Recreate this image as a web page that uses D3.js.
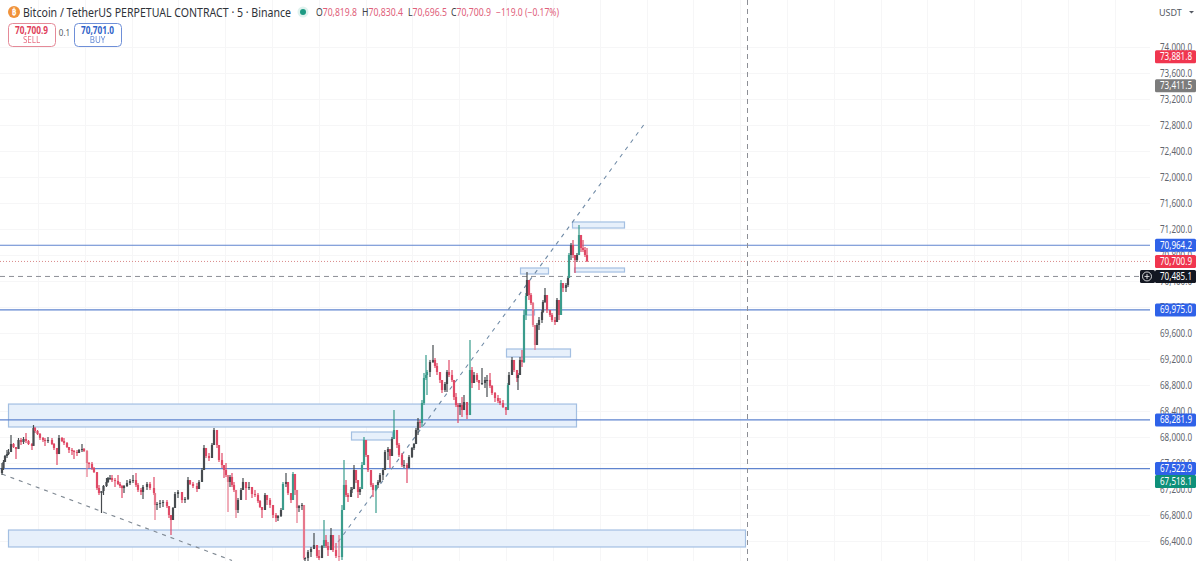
<!DOCTYPE html>
<html><head><meta charset="utf-8">
<style>html,body{margin:0;padding:0;background:#fff;overflow:hidden}svg{display:block}text{font-family:"Noto Sans",sans-serif}</style>
<script src="https://cdn.jsdelivr.net/npm/d3@7"></script>
</head><body><svg id="c" width="1199" height="561"></svg>
<script>
// bar offsets along the time axis
const barPos=[
2,3.5,5,7,8.5,11,13.5,16,18.5,21,23.5,26,28.5,32,33.5,35,37.5,40,43,45,48,52,54,57,59,62,64,67,69,72,74,77,79,82,84,87,89,92,94,97,99,101.5,103.5,106.5,
108,110,112,115,118,120,122,124,127,130,133,136,138,141,143,147,150,154,155,157,160,163,167,169,171,173,175,178,182,185,188,190,193,197,199,202,204,206,209,212,214,
217,219,222,224,226,228,230,232,234,236,238,241,243,246,249,252,255,258,260,262,265,267,270,273,276,278,281,283,286,288,291,293,295,297,299,302,304,
305,308,311,314,317,319,322,324,326,328,
331,333,336,339,342,344,346,348,351,352,
354,356,358,360,362,364,366,368,371,373,
376,378,380,383,385,388,390,392,394,397,
399,402,404,407,409,412,414,416,418,420,
422,424,426,427,430,433,435,437,440,442,
445,447,449,452,454,456,458,460,462,464,
467,470,472,474,477,479,482,485,487,490,
492,495,498,500,503,506,508,509,512,514,
517,518,520,522,524,526,527,529,531,533,
535,537,539,542,543,545,547,550,552,555,
557,559,561,563,566,568,569,571,573,575,
577,579,581,583,585,587];
const highs=[
67600,67646,67723,67800,67815,68031,67908,67846,67985,67985,68000,68062,67954,67908,68185,68154,68108,68062,68000,67985,68000,67985,67908,67769,68031,68000,67985,67923,67846,67831,67800,67800,67815,67892,67831,67800,67615,67615,67538,67446,67262,67138,67262,67369,
67385,67415,67415,67369,67415,67308,67262,67262,67338,67354,67415,67446,67292,67215,67262,67308,67308,67385,67108,67000,67031,67031,67031,66923,66754,66923,67154,67185,67108,67077,67385,67338,67308,67292,67338,67523,67877,67831,67754,67908,68138,
68108,67877,67754,67569,67600,67415,67415,67446,67308,67185,67062,67215,67369,67262,67308,67154,67185,67138,67031,66923,67138,67108,67062,66954,66831,66800,66908,67308,67446,67292,67138,67461,67431,67185,66954,66985,66954,
66154,66261,66308,66523,66338,66261,66338,66723,66492,66385,
66600,66492,66369,66492,66954,67646,67338,67138,67231,67231,
67569,67492,67338,67231,67615,68000,67954,67723,67492,67292,
67262,67338,67446,67523,67800,67846,67815,68000,68415,68108,
67908,67754,67646,67600,67723,67846,67908,68138,68292,68262,
68569,68985,69262,69031,69185,69415,69215,69138,69000,68877,
68846,69031,69185,69031,68877,68677,68523,68523,68615,68646,
68538,69492,69077,69000,68985,68877,69062,68923,68954,68985,
68800,68692,68646,68600,68569,68461,68831,69000,69231,69185,
69031,68985,69231,69338,69954,70215,70538,70415,70215,70077,
69723,69754,69846,69954,70108,70292,70185,69954,69908,69846,
70138,70108,70415,70369,70369,70462,70831,70985,71031,70800,
70831,71261,71108,71031,70923,70908];
const lows=[
67415,67492,67615,67677,67723,67831,67831,67661,67831,67877,67892,67908,67877,67800,67877,68062,68031,67954,67923,67862,67908,67877,67800,67569,67754,67923,67877,67831,67754,67723,67661,67708,67754,67769,67769,67385,67523,67492,67446,67185,67108,66831,67108,67231,
67292,67338,67308,67231,67262,67215,67062,67138,67231,67262,67292,67231,67154,67108,67046,67185,67185,67108,66723,66877,66908,66923,66908,66754,66492,66723,66923,67062,66985,66985,67031,67262,67215,67154,67231,67385,67523,67677,67631,67692,67908,
67831,67615,67523,67369,67385,66846,67231,67231,67154,66754,66831,67062,67185,67031,67185,67062,67077,66985,66908,66754,66877,66954,66908,66754,66692,66708,66769,66877,67231,67108,66985,67031,67108,66677,66846,66877,66108,
66092,66092,66154,66277,66138,66108,66138,66292,66292,66169,
66261,66231,66138,66092,66108,66877,67077,67000,67077,67138,
67200,67292,67062,67108,67200,67569,67692,67461,67231,67077,
66831,67215,67292,67338,67492,67646,67523,67708,67969,67831,
67692,67538,67523,67292,67523,67677,67800,67892,68031,68139,
68154,68492,68877,68646,68923,69138,69062,68954,68831,68677,
68692,68692,68923,68846,68569,68461,68216,68338,68308,68415,
68277,68338,68754,68831,68846,68723,68800,68754,68615,68754,
68646,68538,68523,68492,68446,68338,68415,68800,68954,69000,
68846,68723,68954,69077,69138,69800,70169,70108,70031,69692,
69338,69415,69646,69754,69908,70062,69908,69846,69769,69723,
69769,69800,69877,70231,70231,70308,70446,70723,70754,70523,
70692,70800,70846,70846,70769,70696.5];
const closes=[
67523,67615,67708,67738,67769,67892,67846,67815,67954,67923,67969,67938,67892,67862,68138,68092,68046,67985,67954,67938,67954,67892,67831,67738,67985,67938,67908,67846,67800,67785,67769,67754,67800,67815,67785,67600,67585,67523,67461,67215,67138,67169,67246,67308,
67369,67369,67338,67323,67277,67246,67215,67246,67292,67323,67338,67262,67185,67154,67231,67277,67215,67138,66954,66969,66985,67000,66938,66800,66723,66908,67123,67154,67031,67046,67338,67277,67246,67200,67308,67492,67831,67708,67677,67877,68108,
67877,67646,67569,67492,67415,67308,67385,67262,67185,66877,67031,67185,67308,67215,67231,67123,67108,67015,66923,66877,67108,67031,66954,66800,66754,66785,66877,67277,67308,67138,67031,67431,67185,66908,66938,66954,66138,
66138,66231,66277,66338,66169,66138,66323,66415,66323,66261,
66492,66261,66169,66154,66877,67262,67108,67077,67185,67200,
67492,67338,67154,67200,67569,67954,67723,67492,67262,67185,
67262,67308,67415,67492,67769,67815,67708,67969,68108,67877,
67723,67569,67569,67523,67692,67831,67892,68108,68231,68216,
68523,68908,68954,69000,69154,69185,69092,69000,68877,68723,
68815,69000,68954,68877,68615,68492,68461,68492,68415,68538,
68338,69031,68831,68954,68877,68831,68831,68877,68877,68785,
68677,68600,68554,68523,68461,68415,68800,68954,69185,69031,
68908,68954,69185,69154,69877,70169,70415,70185,70062,69723,
69415,69723,69800,69923,70077,70185,69954,69877,69800,69769,
70108,69877,70369,70292,70338,70446,70800,70954,70800,70723,
70800,71108,70908,70877,70800,70700.9];
const firstOpen=67446;

const priceTicks=[74000,73600,73200,72800,72400,72000,71600,71200,70800,70400,70000,69600,69200,68800,68400,68000,67600,67200,66800,66400];
const gridTimes=[38,85,132,178,225,272,319,366,412,459,506,553,600,647,693,740,787,834,881,927,974,1021,1068,1115];

// zones: left, right, top price, bottom price
const zoneLeft =[8,8,351,506,520,572,574,524];
const zoneRight=[576,745,392,570,548,624,624,534];
const zoneTop  =[68507,66569,68077,69354,70600,71308,70600,69954];
const zoneBot  =[68154,66308,67954,69231,70508,71215,70538,69877];

const blueLevels=[70950,69955,68262,67515];
const lastPrice=70700.9, crossPrice=70470, crossTime=747;

const downLineTimes=[2,232], downLinePrices=[67430,66100];
const upLineTimes=[338,646], upLinePrices=[66385,72850];

const badgeText=["73,881.8","73,411.5","70,964.2","70,700.9","70,485.1","69,975.0","68,281.9","67,522.9","67,518.1"];
const badgePrice=[73851,73405,70950,70700,70470,69955,68262,67515,67316];
const badgeFill=["#f0364f","#7c7c7c","#2f62e8","#f0364f","#131722","#2f62e8","#2f62e8","#2f62e8","#0e9079"];

const svg=d3.select("#c");
const defs=svg.append("defs");
defs.append("filter").attr("id","soft").attr("x","-5%").attr("y","-5%").attr("width","110%").attr("height","110%")
 .append("feGaussianBlur").attr("stdDeviation",0.4);
const plotW=1150;
const x=d3.scaleLinear().domain([0,plotW]).range([0,plotW]);
const y=d3.scaleLinear().domain([66400,74000]).range([541,47]);

// grid
svg.append("g").selectAll("line").data(gridTimes).join("line")
 .attr("x1",d=>x(d)+.5).attr("x2",d=>x(d)+.5).attr("y1",0).attr("y2",561).attr("stroke","#f6f6f7");
svg.append("g").selectAll("line").data(priceTicks).join("line")
 .attr("x1",0).attr("x2",x(plotW)).attr("y1",d=>Math.round(y(d))+.5).attr("y2",d=>Math.round(y(d))+.5).attr("stroke","#f6f6f7");

// zones
svg.append("g").selectAll("rect").data(zoneLeft).join("rect")
 .attr("x",(d,i)=>x(d)+.5).attr("width",(d,i)=>x(zoneRight[i])-x(d))
 .attr("y",(d,i)=>y(zoneTop[i])).attr("height",(d,i)=>y(zoneBot[i])-y(zoneTop[i]))
 .attr("fill","#e7f0fb").attr("stroke","#a3bfe2").attr("stroke-width",1.2);

// level lines
svg.append("g").selectAll("line").data(blueLevels).join("line")
 .attr("x1",0).attr("x2",x(plotW)).attr("y1",d=>y(d)).attr("y2",d=>y(d)).attr("stroke","#5f84cf").attr("stroke-width",1.2);
svg.append("line").attr("x1",0).attr("x2",x(plotW)).attr("y1",y(lastPrice)).attr("y2",y(lastPrice))
 .attr("stroke","#d98a8a").attr("stroke-dasharray","1,2");
svg.append("line").attr("x1",0).attr("x2",x(plotW)).attr("y1",y(crossPrice)).attr("y2",y(crossPrice))
 .attr("stroke","#8d8f96").attr("stroke-dasharray","5,4");
svg.append("line").attr("x1",x(crossTime)+.5).attr("x2",x(crossTime)+.5).attr("y1",0).attr("y2",561)
 .attr("stroke","#8d8f96").attr("stroke-dasharray","5,4");

// trend lines
[[downLineTimes,downLinePrices,"#808a94"],[upLineTimes,upLinePrices,"#6f8aa6"]].forEach(([t,p,c])=>{
 svg.append("line").attr("x1",x(t[0])).attr("x2",x(t[1])).attr("y1",y(p[0])).attr("y2",y(p[1]))
  .attr("stroke",c).attr("stroke-width",1.1).attr("stroke-dasharray","4,5");
});

// candles
const candles=barPos.map((t,i)=>({t,h:highs[i],l:lows[i],c:closes[i],o:i?closes[i-1]:firstOpen}));
const tone=d=>{const up=d.c>=d.o;const big=y(d.l)-y(d.h)>24;
 if(up) return big?"#3a9c8c":"#464c50"; return big?"#e6788c":"#e04a66";};
const cg=svg.append("g").attr("filter","url(#soft)");
cg.selectAll("line").data(candles).join("line")
 .attr("x1",d=>x(d.t)).attr("x2",d=>x(d.t)).attr("y1",d=>y(d.h)).attr("y2",d=>y(d.l))
 .attr("stroke",tone).attr("stroke-width",1.2);
cg.selectAll("rect").data(candles).join("rect")
 .attr("x",d=>x(d.t)-1.1).attr("width",2.2)
 .attr("y",d=>y(Math.max(d.o,d.c))).attr("height",d=>Math.max(1,Math.abs(y(d.o)-y(d.c))))
 .attr("fill",tone);

// price axis
const ax=svg.append("g").attr("transform","translate(1160,0)")
 .call(d3.axisRight(y).tickValues(priceTicks).tickSize(0).tickPadding(0).tickFormat(d3.format(",.1f")));
ax.select(".domain").remove();
ax.selectAll("text").attr("fill","#62666e").attr("font-size",10).attr("font-family","Noto Sans, sans-serif")
 .attr("textLength",32).attr("lengthAdjust","spacingAndGlyphs");

// badges
const bg=svg.append("g").selectAll("g").data(badgeText).join("g")
 .attr("transform",(d,i)=>`translate(1155,${y(badgePrice[i])})`);
bg.append("rect").attr("x",0).attr("y",-6.5).attr("width",41).attr("height",13).attr("rx",1.5)
 .attr("fill",(d,i)=>badgeFill[i]);
bg.append("text").attr("x",5).attr("y",3.5).attr("font-size",10).attr("fill","#fff")
 .attr("textLength",32).attr("lengthAdjust","spacingAndGlyphs").text(d=>d);

// plus button
const py=y(crossPrice);
svg.append("rect").attr("x",1140).attr("y",py-6.5).attr("width",15).attr("height",13).attr("rx",1.5).attr("fill","#131722");
svg.append("circle").attr("cx",1147).attr("cy",py).attr("r",4.5).attr("fill","none").attr("stroke","#fff").attr("stroke-width",.8);
svg.append("path").attr("d",`M1144.5 ${py}h5M1147 ${py-2.5}v5`).attr("stroke","#fff").attr("stroke-width",.8);

// USDT
svg.append("text").attr("x",1159).attr("y",15.5).attr("font-size",9).attr("fill","#555a63").text("USDT");
svg.append("path").attr("d","M1189 11l2.5 2.5l2.5-2.5z").attr("fill","#555a63");

// header
svg.append("circle").attr("cx",14).attr("cy",12).attr("r",6).attr("fill","#f0923a");
svg.append("text").attr("x",14).attr("y",15).attr("text-anchor","middle").attr("font-size",8).attr("font-weight",700).attr("fill","#fff").text("₿");
svg.append("text").attr("x",23).attr("y",16.5).attr("font-size",12.5).attr("fill","#2e3238").attr("font-family","Roboto, sans-serif")
 .attr("textLength",268).attr("lengthAdjust","spacingAndGlyphs")
 .text("Bitcoin / TetherUS PERPETUAL CONTRACT · 5 · Binance");
svg.append("circle").attr("cx",303).attr("cy",12).attr("r",5.5).attr("fill","#dff2ee");
svg.append("circle").attr("cx",303).attr("cy",12).attr("r",3).attr("fill","#1c9a83");
const ohlcLetters=["O","H","L","C"],ohlcVals=["70,819.8","70,830.4","70,696.5","70,700.9"],ohlcX=[316,362,408,451],ohlcLen=[41,41,39,40];
ohlcLetters.forEach((l,i)=>{
 const t=svg.append("text").attr("x",ohlcX[i]).attr("y",15.5).attr("font-size",10)
  .attr("textLength",ohlcLen[i]).attr("lengthAdjust","spacingAndGlyphs");
 t.append("tspan").attr("fill","#3c4046").text(l);
 t.append("tspan").attr("fill","#e0607a").text(ohlcVals[i]);
});
svg.append("text").attr("x",496).attr("y",15.5).attr("font-size",10).attr("fill","#e0607a")
 .attr("textLength",63).attr("lengthAdjust","spacingAndGlyphs").text("−119.0 (−0.17%)");

const btn=[[8,47,"70,700.9","SELL","#e0405a","#e58a98"],[74,47,"70,701.0","BUY","#2f62c8","#6e8fd8"]];
btn.forEach(([bx,w,p,l,c,s])=>{
 svg.append("rect").attr("x",bx+.5).attr("y",23.5).attr("width",w).attr("height",23).attr("rx",4).attr("fill","#fff").attr("stroke",s);
 svg.append("text").attr("x",bx+w/2).attr("y",33.5).attr("text-anchor","middle").attr("font-size",10).attr("font-weight",700).attr("fill",c)
  .attr("textLength",33).attr("lengthAdjust","spacingAndGlyphs").text(p);
 svg.append("text").attr("x",bx+w/2).attr("y",43).attr("text-anchor","middle").attr("font-size",8).attr("fill",c).attr("opacity",.75).text(l);
});
svg.append("text").attr("x",64.5).attr("y",36).attr("text-anchor","middle").attr("font-size",8).attr("fill","#555a63").text("0.1");
</script></body></html>
